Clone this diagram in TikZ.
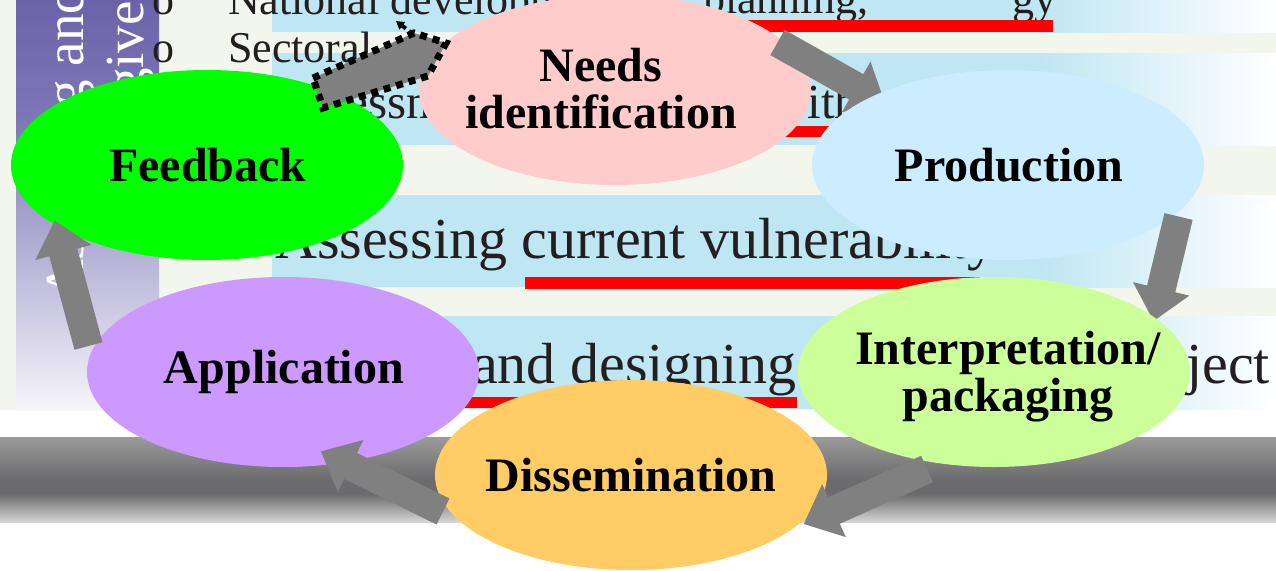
\documentclass[tikz,border=0pt]{standalone}
\usepackage{fontspec}
\setmainfont{Liberation Serif}
\usetikzlibrary{calc,shapes.geometric,arrows.meta}
\definecolor{bandblue}{HTML}{BFE6F3}
\definecolor{offwhite}{HTML}{F2F6EC}
\definecolor{fbgreen}{HTML}{00FF00}
\definecolor{needpink}{HTML}{FFCCCC}
\definecolor{prodblue}{HTML}{CCECFF}
\definecolor{intgreen}{HTML}{CCFF99}
\definecolor{disorange}{HTML}{FFCC66}
\definecolor{apppurple}{HTML}{CC99FF}
\definecolor{arrowgray}{HTML}{808080}
\definecolor{barpurple}{HTML}{6B63A8}
\definecolor{barmid}{HTML}{7E77B7}
\definecolor{barlow}{HTML}{F6F5FA}
\definecolor{bgtext}{HTML}{231F20}
\definecolor{gbandtop}{HTML}{9A9A9A}
\definecolor{gbanddark}{HTML}{6B6B6D}
\definecolor{gbandlow}{HTML}{D6D6D6}
\newcommand\blockarrow[2]{%
  \coordinate (hb) at ($(#2)!33pt!(#1)$);
  \fill[blockarr] ($(#1)!14.5pt!90:(#2)$) -- ($(hb)!14.5pt!90:(#2)$) --
    ($(hb)!29pt!90:(#2)$) -- (#2) -- ($(hb)!29pt!-90:(#2)$) --
    ($(hb)!14.5pt!-90:(#2)$) -- ($(#1)!14.5pt!-90:(#2)$) -- cycle;}
\begin{document}
\begin{tikzpicture}[x=1pt,y=-1pt,
  cyc/.style={ellipse, minimum width=392pt, minimum height=190pt, inner sep=0pt},
  lbl/.style={font=\bfseries\fontsize{48}{47}\selectfont, align=center, text=black, inner sep=0pt},
  bgtxt/.style={anchor=base west, inner sep=0pt, text=bgtext},
  bigtxt/.style={bgtxt, font=\fontsize{58}{64}\selectfont},
  smalltxt/.style={bgtxt, font=\fontsize{44}{50}\selectfont},
  titletxt/.style={anchor=base west, inner sep=0pt, rotate=90, text=white, font=\fontsize{55}{60}\selectfont},
  redline/.style={fill=red},
  band/.style={fill=bandblue},
  blockarr/.style={fill=arrowgray},
  dotarr/.style={fill=arrowgray, draw=black, line width=7pt, dash pattern=on 7pt off 6pt}
]
\useasboundingbox (0,0) rectangle (1276,570);
\clip (0,0) rectangle (1276,570);
% background
\fill[white] (0,0) rectangle (1276,570);
\fill[offwhite] (0,0) rectangle (1276,410);
% blue bands
\foreach \ya/\yb in {0/32, 53/145, 195/287, 316/409}{
  \fill[band] (272,\ya) rectangle (1040,\yb);
  \shade[left color=bandblue, right color=white] (1040,\ya) rectangle (1276,\yb);
}
% left title bar
\shade[top color=barpurple, bottom color=barmid] (16,0) rectangle (159,120);
\shade[top color=barmid, bottom color=barlow] (16,120) rectangle (159,410);
\node[titletxt] (ttl1) at (83,300) {Assessing and};
\node[titletxt] (ttl2) at (143,96) {give};
% slide text
\node[smalltxt] (b1) at (152,14) {o};
\node[smalltxt] (t1) at (228,14) {National development};
\node[smalltxt] (t1b) at (703,13) {planning,};
\node[smalltxt] (t1c) at (1012,13) {gy};
\node[smalltxt] (b2) at (152,62) {o};
\node[smalltxt] (t2) at (228,62) {Sectoral};
\node[bgtxt, font=\fontsize{49}{50}\selectfont] (t2b) at (273,118) {Assessment};
\node[bgtxt, font=\fontsize{49}{50}\selectfont] (t2c) at (772,118) {with};
\node[bigtxt] (t3) at (275,258) {Assessing current vulnerability};
\node[bigtxt] (t4) at (472,383) {and designing};
\node[bigtxt] (t4b) at (1186,383) {ject};
% red underlines
\fill[redline] (600,20) rectangle (1053,32);
\fill[redline] (600,126) rectangle (835,137);
\fill[redline] (525,277) rectangle (990,289);
\fill[redline] (440,397) rectangle (797,408);
% grey band
\shade[top color=gbandtop, bottom color=gbanddark] (0,437) rectangle (1276,480);
\fill[gbanddark] (0,480) rectangle (1276,494);
\shade[top color=gbanddark, bottom color=gbandlow] (0,494) rectangle (1276,522);
% cycle
\node[cyc, fill=fbgreen] (fb) at (207,165) {};
\node[lbl] (fbt) at (208,165) {Feedback};
\node[cyc, fill=needpink] (need) at (615,90) {};
\node[lbl] (needt) at (601,89) {Needs\\identification};
% dotted arrow feedback -> needs
\coordinate (d1) at (313,78);
\coordinate (d2) at (414,33);
\coordinate (d3) at (446,43);
\coordinate (d4) at (428,76);
\coordinate (d5) at (323,108);
\path[dotarr] (d1) -- (d2) -- (d3) -- (d4) -- (d5) -- cycle;
\coordinate (dbs) at (413,34);
\coordinate (dbe) at (396,21);
\draw[line width=4pt, dash pattern=on 5pt off 4pt, -{Triangle[length=8pt,width=9pt]}] (dbs) -- (dbe);
% arrow needs -> production
\coordinate (a1s) at (777.5,42.5);
\coordinate (a1e) at (885,103);
\blockarrow{a1s}{a1e}
\node[cyc, fill=prodblue] (prod) at (1008,165) {};
\node[lbl] (prodt) at (1009,165) {Production};
% arrow production -> interpretation
\coordinate (a2s) at (1178.5,216.5);
\coordinate (a2e) at (1153.5,321);
\blockarrow{a2s}{a2e}
\node[cyc, fill=intgreen] (interp) at (994,372) {};
\node[lbl] (interpt) at (1008,377) {Interpretation/\\packaging};
\node[cyc, fill=disorange] (dis) at (631,475) {};
\node[lbl] (dist) at (631,475) {Dissemination};
\node[cyc, fill=apppurple] (app) at (283,372) {};
\node[lbl] (appt) at (284,372) {Application};
% arrows interpretation -> dissemination -> application -> feedback
\coordinate (a3s) at (927,469);
\coordinate (a3e) at (803.8,524);
\blockarrow{a3s}{a3e}
\coordinate (a4s) at (443,511.5);
\coordinate (a4e) at (321,451.4);
\blockarrow{a4s}{a4e}
\coordinate (a5s) at (88.5,346);
\coordinate (a5e) at (54.7,220.6);
\blockarrow{a5s}{a5e}
\end{tikzpicture}
\end{document}
